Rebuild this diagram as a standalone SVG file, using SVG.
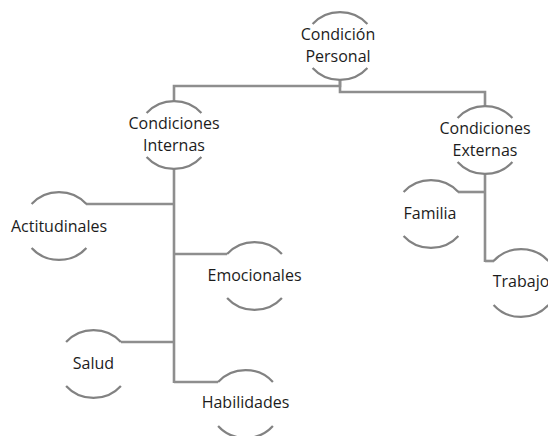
<svg xmlns="http://www.w3.org/2000/svg" xmlns:xlink="http://www.w3.org/1999/xlink" width="548" height="436" viewBox="0 0 548 436">
  <style>
    .ring { fill: none; stroke: #828282; stroke-width: 2.2; }
    .link { fill: none; stroke: #8e8e8e; stroke-width: 2.6; }
    .label { font-family: "Open Sans", "Noto Sans", sans-serif; font-size: 16px; fill: #1c1c1c; text-anchor: middle; }
  </style>
  <defs>
    <!-- circle outline with its sides left open behind the label -->
    <path id="ring" d="M-27.4,-22 A36,34 0 0 1 27.4,-22 M-27.4,22 A36,34 0 0 0 27.4,22"/>
  </defs>
  <rect width="548" height="436" fill="#ffffff"/>

  <g id="connectors" class="link">
    <path d="M340,80 V86 H174 V101"/>
    <path d="M340,80 V92 H485 V106"/>
    <path d="M174,169 V383"/>
    <path d="M174,204 H86"/>
    <path d="M174,254 H227"/>
    <path d="M174,342 H121"/>
    <path d="M174,382 H218"/>
    <path d="M485,174 V262"/>
    <path d="M485,192 H458"/>
    <path d="M485,261 H494"/>
  </g>

  <g id="condicion-personal" transform="translate(340,46)">
    <use xlink:href="#ring" class="ring"/>
    <text class="label" x="-2" y="-6">Condición</text>
    <text class="label" x="-2" y="16">Personal</text>
  </g>

  <g id="condiciones-internas" transform="translate(174,135)">
    <use xlink:href="#ring" class="ring"/>
    <text class="label" x="0" y="-6">Condiciones</text>
    <text class="label" x="0" y="16">Internas</text>
  </g>

  <g id="condiciones-externas" transform="translate(485,140)">
    <use xlink:href="#ring" class="ring"/>
    <text class="label" x="0" y="-6">Condiciones</text>
    <text class="label" x="0" y="16">Externas</text>
  </g>

  <g id="actitudinales" transform="translate(59,226)">
    <use xlink:href="#ring" class="ring"/>
    <text class="label" x="0" y="5.5">Actitudinales</text>
  </g>

  <g id="emocionales" transform="translate(254.5,276)">
    <use xlink:href="#ring" class="ring"/>
    <text class="label" x="0" y="5">Emocionales</text>
  </g>

  <g id="salud" transform="translate(93.5,364)">
    <use xlink:href="#ring" class="ring"/>
    <text class="label" x="0" y="4.5">Salud</text>
  </g>

  <g id="habilidades" transform="translate(245.5,404)">
    <use xlink:href="#ring" class="ring"/>
    <text class="label" x="0" y="4">Habilidades</text>
  </g>

  <g id="familia" transform="translate(431,214)">
    <use xlink:href="#ring" class="ring"/>
    <text class="label" x="-1" y="4.5">Familia</text>
  </g>

  <g id="trabajo" transform="translate(521,283)">
    <use xlink:href="#ring" class="ring"/>
    <text class="label" x="0" y="4">Trabajo</text>
  </g>
</svg>
